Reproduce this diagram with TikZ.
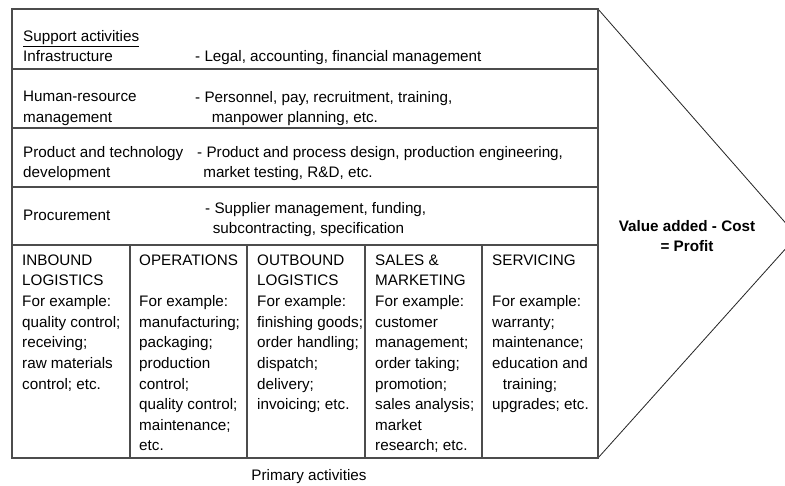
\documentclass[tikz,border=0pt]{standalone}
\usepackage{fontspec}
\setmainfont{Liberation Sans}

\tikzset{
	grid line/.style={line width=1.1pt, color=black!70},
	cell text/.style={anchor=north west, inner sep=0pt, align=left, font=\fontsize{13}{17.6}\selectfont},
}

\begin{document}
\begin{tikzpicture}[x=0.03cm, y=-0.03cm]
		%%%%% START %%%%%
		
		\useasboundingbox (0, 0) rectangle (785, 486);
		\clip (0, 0) rectangle (785, 486);
		
		\draw[line width=0.7pt, color=black!85] (598, 9) -- (797, 236) -- (598, 458);
		
		\draw[grid line] (12, 9) rectangle (598, 458);
		\foreach \y in {69, 128, 187, 245}
			\draw[grid line] (12, \y) -- (598, \y);
		\foreach \x in {130, 247, 365, 482}
			\draw[grid line] (\x, 245) -- (\x, 458);
		
		\node[cell text] (infra) at (23, 30) {\underline{Support activities}\\Infrastructure};
		\node[cell text] (infra desc) at (195, 50) {- Legal, accounting, financial management};
		
		\node[cell text] (hr) at (23, 91) {Human-resource\\management};
		\node[cell text] (hr desc) at (195, 91) {- Personnel, pay, recruitment, training,\\\hspace*{1.1em}manpower planning, etc.};
		
		\node[cell text] (tech) at (23, 146) {Product and technology\\development};
		\node[cell text] (tech desc) at (197, 146) {- Product and process design, production engineering,\\\hspace*{0.4em}market testing, R\&D, etc.};
		
		\node[cell text] (proc) at (23, 210) {Procurement};
		\node[cell text] (proc desc) at (205, 202) {- Supplier management, funding,\\\hspace*{0.5em}subcontracting, specification};
		
		\node[cell text] (inbound) at (22, 254.5) {INBOUND\\LOGISTICS\\For example:\\quality control;\\receiving;\\raw materials\\control; etc.};
		\node[cell text] (operations) at (139, 254.5) {OPERATIONS\\[17.6pt]For example:\\manufacturing;\\packaging;\\production\\control;\\quality control;\\maintenance;\\etc.};
		\node[cell text] (outbound) at (257, 254.5) {OUTBOUND\\LOGISTICS\\For example:\\finishing goods;\\order handling;\\dispatch;\\delivery;\\invoicing; etc.};
		\node[cell text] (sales) at (375, 254.5) {SALES \&\\MARKETING\\For example:\\customer\\management;\\order taking;\\promotion;\\sales analysis;\\market\\research; etc.};
		\node[cell text] (servicing) at (492, 254.5) {SERVICING\\[17.6pt]For example:\\warranty;\\maintenance;\\education and\\\hspace*{0.7em}training;\\upgrades; etc.};
		
		\node[align=center, inner sep=0pt, font=\fontsize{13}{17.6}\selectfont\bfseries] (profit) at (687, 236) {Value added - Cost\\= Profit};
		
		\node[inner sep=0pt, font=\fontsize{13}{15}\selectfont] (primary) at (309, 477) {Primary activities};
		
		%%%%% END %%%%%
\end{tikzpicture}
\end{document}
